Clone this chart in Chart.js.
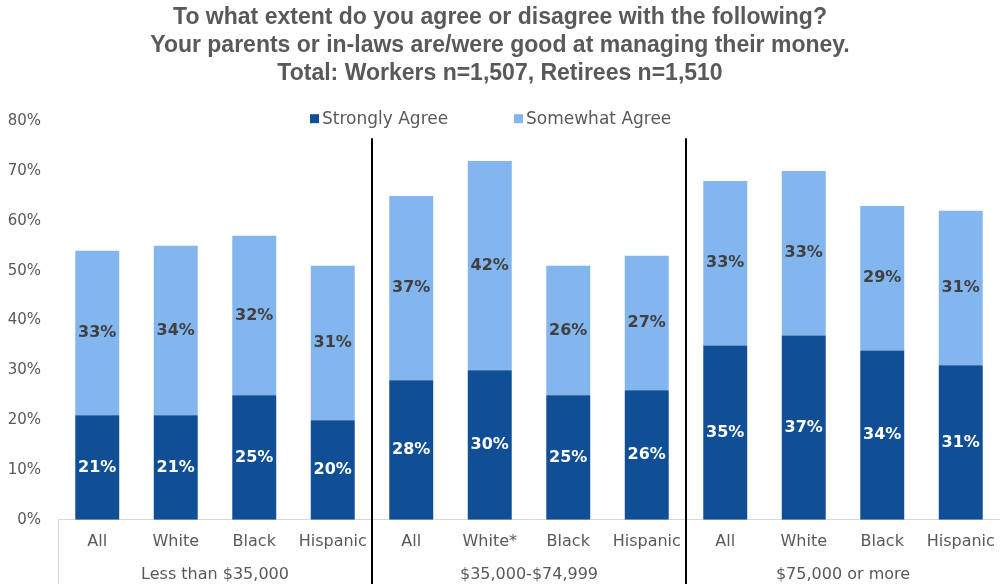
<!DOCTYPE html>
<html>
<head>
<meta charset="utf-8">
<script src="https://cdn.jsdelivr.net/npm/chart.js@4.4.1/dist/chart.umd.min.js"></script>
<style>
  html, body { margin: 0; padding: 0; background: #fff; }
  #wrap { width: 1000px; height: 584px; position: relative; }
</style>
</head>
<body>
<div id="wrap"><canvas id="chart" width="1000" height="584"></canvas></div>
<script>
const categories = ['All', 'White', 'Black', 'Hispanic', 'All', 'White*', 'Black', 'Hispanic', 'All', 'White', 'Black', 'Hispanic'];
const groups = ['Less than $35,000', '$35,000-$74,999', '$75,000 or more'];
const stronglyAgree = [21, 21, 25, 20, 28, 30, 25, 26, 35, 37, 34, 31];
const somewhatAgree = [33, 34, 32, 31, 37, 42, 26, 27, 33, 33, 29, 31];
const yTicks = [0, 10, 20, 30, 40, 50, 60, 70, 80];

const DARK = '#104F95';
const LIGHT = '#83B5EE';
const GRAY = '#595959';
const FONT = "'DejaVu Sans', sans-serif";

// labels inside each bar segment, group dividers, group names, legend
const extras = {
  id: 'extras',
  afterDatasetsDraw(chart) {
    const ctx = chart.ctx;
    ctx.save();
    ctx.textAlign = 'center';
    ctx.textBaseline = 'middle';
    ctx.font = 'bold 16px ' + FONT;
    chart.data.datasets.forEach((ds, i) => {
      const meta = chart.getDatasetMeta(i);
      meta.data.forEach((bar, j) => {
        const mid = (bar.y + bar.base) / 2;
        ctx.fillStyle = i === 0 ? '#ffffff' : '#404040';
        ctx.fillText(ds.data[j] + '%', bar.x, mid);
      });
    });
    ctx.restore();
  },
  afterDraw(chart) {
    const ctx = chart.ctx;
    const x = chart.scales.x;
    const area = chart.chartArea;
    const step = x.getPixelForValue(1) - x.getPixelForValue(0);
    ctx.save();
    // gray edge of the category axis
    ctx.strokeStyle = '#d9d9d9';
    ctx.lineWidth = 1;
    ctx.beginPath();
    ctx.moveTo(area.left + 0.5, area.bottom);
    ctx.lineTo(area.left + 0.5, chart.height);
    ctx.stroke();
    // black group separators
    ctx.strokeStyle = '#000000';
    ctx.lineWidth = 2;
    [4, 8].forEach(k => {
      const px = Math.round(x.getPixelForValue(k) - step / 2);
      ctx.beginPath();
      ctx.moveTo(px, area.top + 17);
      ctx.lineTo(px, chart.height);
      ctx.stroke();
    });
    // group names
    ctx.fillStyle = GRAY;
    ctx.font = '16px ' + FONT;
    ctx.textAlign = 'center';
    ctx.textBaseline = 'middle';
    groups.forEach((g, k) => {
      const cx = (x.getPixelForValue(k * 4) + x.getPixelForValue(k * 4 + 3)) / 2;
      ctx.fillText(g, cx, area.bottom + 55);
    });
    // legend
    const items = [['Strongly Agree', DARK, 310], ['Somewhat Agree', LIGHT, 514]];
    ctx.textAlign = 'left';
    ctx.font = '17px ' + FONT;
    items.forEach(([label, color, lx]) => {
      ctx.fillStyle = color;
      ctx.fillRect(lx, area.top - 7, 9, 9);
      ctx.fillStyle = GRAY;
      ctx.fillText(label, lx + 12, area.top - 2);
    });
    ctx.restore();
  }
};

new Chart(document.getElementById('chart'), {
  type: 'bar',
  data: {
    labels: categories,
    datasets: [
      { label: 'Strongly Agree', data: stronglyAgree, backgroundColor: DARK, borderWidth: 0, barPercentage: 0.56, categoryPercentage: 1 },
      { label: 'Somewhat Agree', data: somewhatAgree, backgroundColor: LIGHT, borderWidth: 0, barPercentage: 0.56, categoryPercentage: 1 }
    ]
  },
  options: {
    responsive: false,
    maintainAspectRatio: false,
    animation: false,
    layout: { padding: { left: 0, right: 0, top: 0, bottom: 21 } },
    scales: {
      x: {
        stacked: true,
        afterFit(axis) { axis.paddingLeft = 0; axis.paddingRight = 0; },
        grid: { display: false, drawTicks: false },
        border: { display: true, color: '#d9d9d9', width: 1 },
        ticks: { color: GRAY, font: { family: FONT, size: 16 }, padding: 12, autoSkip: false, maxRotation: 0 }
      },
      y: {
        stacked: true,
        min: 0,
        max: 80,
        afterBuildTicks(axis) { axis.ticks = yTicks.map(v => ({ value: v })); },
        afterFit(axis) { axis.width = 58; },
        grid: { display: false, drawTicks: false },
        border: { display: false },
        ticks: { color: GRAY, font: { family: FONT, size: 15 }, padding: 17, callback: v => v + '%' }
      }
    },
    plugins: {
      legend: { display: false },
      tooltip: { enabled: false },
      title: {
        display: true,
        text: ['To what extent do you agree or disagree with the following?',
               'Your parents or in-laws are/were good at managing their money.',
               'Total: Workers n=1,507, Retirees n=1,510'],
        color: GRAY,
        font: { family: "'Liberation Sans', Arial, sans-serif", size: 23, weight: 'bold', lineHeight: 1.22 },
        padding: { top: 4, bottom: 33 }
      }
    }
  },
  plugins: [extras]
});
</script>
</body>
</html>
